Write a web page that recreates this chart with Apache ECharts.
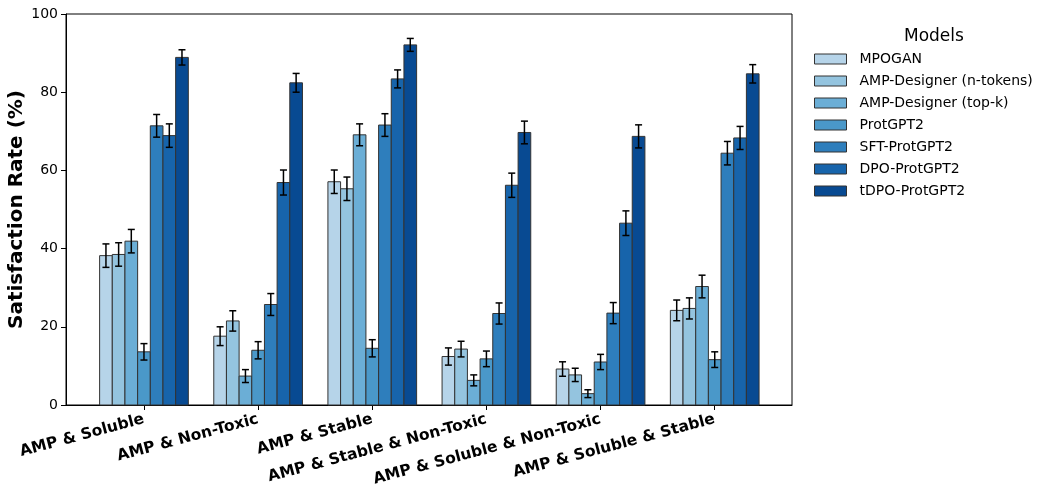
<!DOCTYPE html>
<html>
<head>
<meta charset="utf-8">
<script src="https://cdn.jsdelivr.net/npm/echarts@6/dist/echarts.min.js"></script>
<style>
html,body{margin:0;padding:0;background:#fff;}
#chart{width:1056px;height:485px;}
</style>
</head>
<body>
<div id="chart"></div>
<script>
const categories = ['AMP & Soluble', 'AMP & Non-Toxic', 'AMP & Stable', 'AMP & Stable & Non-Toxic', 'AMP & Soluble & Non-Toxic', 'AMP & Soluble & Stable'];
const models = ['MPOGAN', 'AMP-Designer (n-tokens)', 'AMP-Designer (top-k)', 'ProtGPT2', 'SFT-ProtGPT2', 'DPO-ProtGPT2', 'tDPO-ProtGPT2'];
const colors = ['#b6d4e9', '#94c4df', '#6baed6', '#4a98c9', '#2e7ebc', '#1764ab', '#084a92'];
const yTicks = [0, 20, 40, 60, 80, 100];

const mpogan      = [38.2, 17.6, 57.1, 12.4, 9.2, 24.2];
const ampNTokens  = [38.5, 21.5, 55.3, 14.3, 7.7, 24.7];
const ampTopK     = [41.9, 7.4, 69.1, 6.3, 2.9, 30.3];
const protGPT2    = [13.6, 14.0, 14.5, 11.8, 11.0, 11.6];
const sftProtGPT2 = [71.4, 25.7, 71.6, 23.4, 23.5, 64.4];
const dpoProtGPT2 = [68.9, 56.9, 83.4, 56.2, 46.5, 68.3];
const tdpoProtGPT2= [88.9, 82.4, 92.1, 69.7, 68.7, 84.7];

const errMpogan   = [3.0, 2.4, 3.0, 2.2, 1.85, 2.65];
const errNTokens  = [3.0, 2.6, 3.0, 2.0, 1.7, 2.7];
const errTopK     = [3.0, 1.65, 2.8, 1.4, 1.0, 2.9];
const errProt     = [2.1, 2.2, 2.2, 2.0, 1.95, 2.0];
const errSft      = [2.9, 2.8, 2.9, 2.7, 2.7, 3.0];
const errDpo      = [3.0, 3.2, 2.3, 3.1, 3.15, 2.95];
const errTdpo     = [1.95, 2.4, 1.65, 2.9, 2.95, 2.35];

const values = [mpogan, ampNTokens, ampTopK, protGPT2, sftProtGPT2, dpoProtGPT2, tdpoProtGPT2];
const errors = [errMpogan, errNTokens, errTopK, errProt, errSft, errDpo, errTdpo];

const BAR_W = 0.111;
const FONT = 'DejaVu Sans';

function makeRender(s) {
  return function (params, api) {
    const gi = api.value(0), v = api.value(1), e = api.value(2);
    const xc = gi + (s - 3) * BAR_W;
    const pTL = api.coord([xc - BAR_W / 2, v]);
    const pBR = api.coord([xc + BAR_W / 2, 0]);
    const cx = api.coord([xc, v])[0];
    const yt = api.coord([xc, v + e])[1];
    const yb = api.coord([xc, v - e])[1];
    const cap = 3.5;
    return {
      type: 'group',
      children: [
        {type: 'rect', shape: {x: pTL[0], y: pTL[1], width: pBR[0] - pTL[0], height: pBR[1] - pTL[1]},
         style: {fill: colors[s], stroke: '#333', lineWidth: 1}},
        {type: 'line', shape: {x1: cx, y1: yt, x2: cx, y2: yb}, style: {stroke: '#000', lineWidth: 1.5}},
        {type: 'line', shape: {x1: cx - cap, y1: yt, x2: cx + cap, y2: yt}, style: {stroke: '#000', lineWidth: 1.5}},
        {type: 'line', shape: {x1: cx - cap, y1: yb, x2: cx + cap, y2: yb}, style: {stroke: '#000', lineWidth: 1.5}}
      ]
    };
  };
}

const series = models.map((m, s) => ({
  name: m,
  type: 'custom',
  renderItem: makeRender(s),
  itemStyle: {color: colors[s], borderColor: '#333', borderWidth: 1},
  encode: {x: 0, y: 1},
  data: categories.map((c, i) => [i, values[s][i], errors[s][i]]),
  clip: false
}));

const chart = echarts.init(document.getElementById('chart'), null, {renderer: 'canvas'});
chart.setOption({
  animation: false,
  backgroundColor: '#fff',
  textStyle: {fontFamily: FONT},
  grid: {left: 66, right: 264, top: 14, bottom: 80, show: true, borderColor: '#000', borderWidth: 1, containLabel: false, outerBoundsMode: 'none'},
  xAxis: {
    type: 'value',
    min: -0.683,
    max: 5.677,
    axisLine: {show: true, onZero: false, lineStyle: {color: '#000', width: 1}},
    axisTick: {show: true, length: 5, lineStyle: {color: '#000'}, customValues: categories.map((c, i) => i)},
    axisLabel: {
      customValues: categories.map((c, i) => i),
      formatter: v => categories[Math.round(v)],
      rotate: 15,
      margin: 14,
      fontSize: 15.5,
      fontWeight: 'bold',
      color: '#000',
      fontFamily: FONT
    },
    splitLine: {show: false}
  },
  yAxis: {
    type: 'value',
    min: 0,
    max: 100,
    interval: 20,
    name: 'Satisfaction Rate (%)',
    nameLocation: 'middle',
    nameGap: 39,
    nameMoveOverlap: false,
    nameTextStyle: {fontSize: 20, fontWeight: 'bold', color: '#000', fontFamily: FONT},
    axisLine: {show: true, onZero: false, lineStyle: {color: '#000', width: 1}},
    axisTick: {show: true, length: 5, lineStyle: {color: '#000'}},
    axisLabel: {fontSize: 14, color: '#000', margin: 8, fontFamily: FONT},
    splitLine: {show: false}
  },
  legend: {
    orient: 'vertical',
    left: 814,
    top: 52,
    padding: 0,
    itemWidth: 32,
    itemHeight: 10,
    itemGap: 8,
    icon: 'rect',
    textStyle: {fontSize: 14, color: '#000', fontFamily: FONT, lineHeight: 14, padding: [0, 0, 0, 8]},
    data: models.map((m, s) => ({name: m, itemStyle: {color: colors[s], borderColor: '#333', borderWidth: 1}}))
  },
  graphic: [{
    type: 'text',
    left: 904,
    top: 28,
    style: {text: 'Models', fontSize: 17, fill: '#000', fontFamily: FONT, textAlign: 'left'}
  }],
  series: series
});
</script>
</body>
</html>
